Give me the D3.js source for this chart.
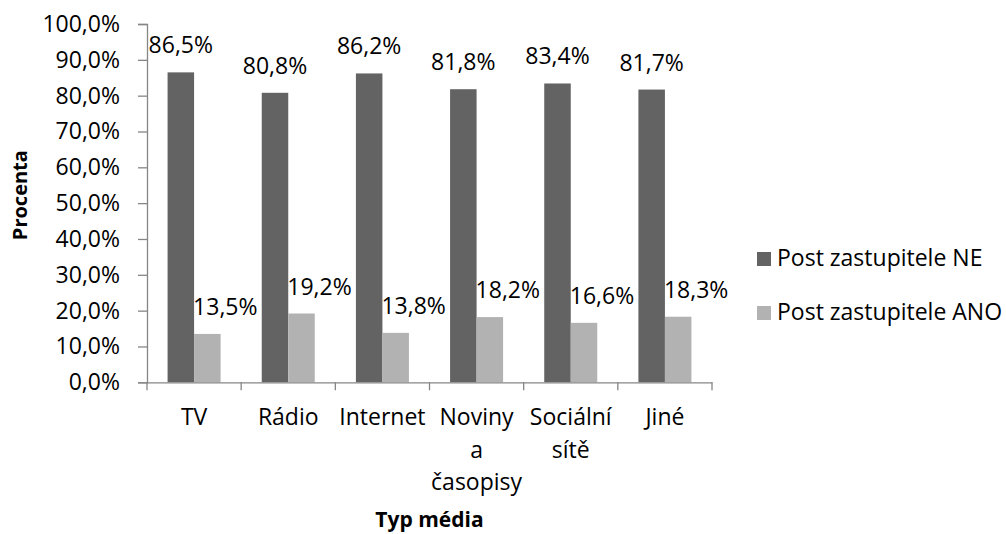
<!DOCTYPE html>
<html>
<head>
<meta charset="utf-8">
<script src="https://cdn.jsdelivr.net/npm/d3@7/dist/d3.min.js"></script>
<style>
  html, body { margin: 0; padding: 0; background: #fff; }
  svg { display: block; }
  text { font-family: "Open Sans", sans-serif; fill: #000; }
</style>
</head>
<body>
<svg id="chart" width="1006" height="534"></svg>
<script>
const categories = ["TV", "Rádio", "Internet", "Noviny a časopisy", "Sociální sítě", "Jiné"];
const seriesNames = ["Post zastupitele NE", "Post zastupitele ANO"];
const valuesNE  = [86.5, 80.8, 86.2, 81.8, 83.4, 81.7];
const valuesANO = [13.5, 19.2, 13.8, 18.2, 16.6, 18.3];
const yTicks = [0, 10, 20, 30, 40, 50, 60, 70, 80, 90, 100];
const colors = ["#636363", "#b2b2b2"];
const yTitle = "Procenta";
const xTitle = "Typ média";

(function () {
const svg = d3.select("#chart");
const mLeft = 147, mRight = 712, mTop = 24, mBottom = 382.3;
const axisColor = "#868686";
const fmt = v => d3.format(".1f")(v).replace(".", ",") + "%";

const x = d3.scaleBand().domain(categories).range([mLeft, mRight]).padding(0);
const bw = x.bandwidth();
const barW = bw * 0.2815;
const x1 = d3.scaleBand().domain(seriesNames)
  .range([bw / 2 - barW, bw / 2 + barW]).padding(0);
const y = d3.scaleLinear().domain([0, 100]).range([mBottom, mTop]);

const data = categories.map((c, i) => ({ cat: c, vals: [valuesNE[i], valuesANO[i]] }));

// Y axis
const yAxis = svg.append("g").attr("transform", `translate(${mLeft},0)`)
  .call(d3.axisLeft(y).tickValues(yTicks).tickSize(9).tickPadding(18).tickFormat(fmt));
yAxis.select(".domain").attr("stroke", axisColor).attr("stroke-width", 1.3);
yAxis.selectAll(".tick line").attr("stroke", axisColor).attr("stroke-width", 1.3);
yAxis.selectAll(".tick text").style("font-family", "'Open Sans', sans-serif")
  .style("font-size", "23px").attr("fill", "#000");

// bars
const groups = svg.append("g").selectAll("g").data(data).join("g")
  .attr("transform", d => `translate(${x(d.cat)},0)`);
groups.selectAll("rect").data(d => d.vals.map((v, j) => ({ v, s: seriesNames[j], j })))
  .join("rect")
  .attr("x", d => x1(d.s))
  .attr("width", x1.bandwidth())
  .attr("y", d => y(d.v))
  .attr("height", d => y(0) - y(d.v))
  .attr("fill", d => colors[d.j]);

// value labels
groups.selectAll("text.val").data(d => d.vals.map((v, j) => ({ v, s: seriesNames[j], j })))
  .join("text").attr("class", "val")
  .attr("x", d => d.j === 0 ? x1(d.s) + x1.bandwidth() / 2 : x1(d.s) - 1)
  .attr("y", d => y(d.v) - 19)
  .attr("text-anchor", d => d.j === 0 ? "middle" : "start")
  .style("font-size", "23px")
  .text(d => fmt(d.v));

// X axis
const xAxis = svg.append("g").attr("transform", `translate(0,${mBottom})`)
  .call(d3.axisBottom(x).tickSize(0).tickFormat(""));
xAxis.select(".domain").attr("stroke", axisColor).attr("stroke-width", 1.3);
const bounds = categories.map(c => x(c)).concat([x(categories[categories.length - 1]) + bw]);
xAxis.selectAll("line.bt").data(bounds).join("line").attr("class", "bt")
  .attr("x1", d => d).attr("x2", d => d).attr("y1", 0).attr("y2", 8)
  .attr("stroke", axisColor).attr("stroke-width", 1.3);

// category labels (wrapped)
const catText = svg.append("g").selectAll("text").data(categories).join("text")
  .attr("text-anchor", "middle")
  .attr("x", d => x(d) + bw / 2)
  .attr("y", 425)
  .style("font-size", "23px");
catText.selectAll("tspan").data(d => d.split(" ").map(w => ({ w, c: d })))
  .join("tspan")
  .attr("x", d => x(d.c) + bw / 2)
  .attr("dy", (d, i) => i === 0 ? 0 : 32.5)
  .text(d => d.w);

// axis titles
svg.append("text").attr("x", (mLeft + mRight) / 2).attr("y", 527)
  .attr("text-anchor", "middle").style("font-size", "21px").style("font-weight", "bold")
  .text(xTitle);
svg.append("text").attr("transform", `translate(27,${(mTop + mBottom) / 2 - 8}) rotate(-90)`)
  .attr("text-anchor", "middle").style("font-size", "20px").style("font-weight", "bold")
  .text(yTitle);

// legend
const leg = svg.append("g").selectAll("g").data(seriesNames).join("g")
  .attr("transform", (d, i) => `translate(757,${252 + i * 54})`);
leg.append("rect").attr("width", 14).attr("height", 14).attr("fill", (d, i) => colors[i]);
leg.append("text").attr("x", 20).attr("y", 14).style("font-size", "23px").text(d => d);
})();
</script>
</body>
</html>
